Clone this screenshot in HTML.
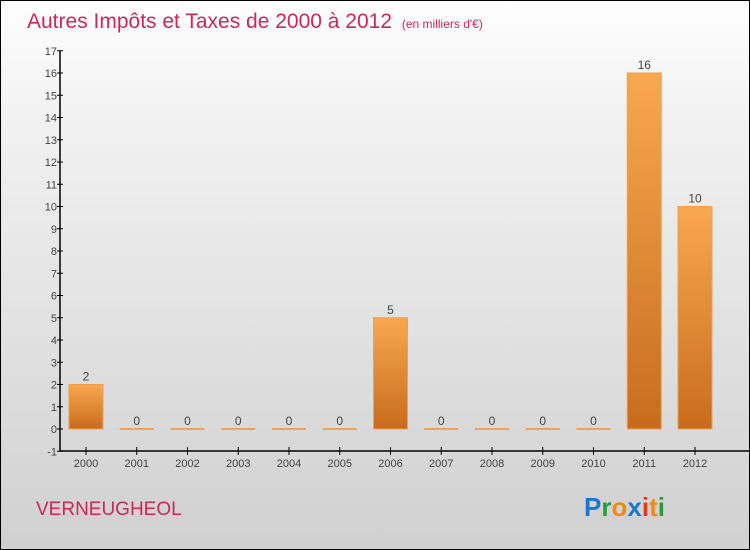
<!DOCTYPE html>
<html><head><meta charset="utf-8"><style>
body{margin:0;}
#c{position:relative;width:748px;height:548px;border:1px solid #000;background:linear-gradient(#fefefe,#f2f2f2 20%,#d0d0d0);font-family:"Liberation Sans",sans-serif;overflow:hidden;}
</style></head><body>
<div id="c">
<svg id="s" width="748" height="548" xmlns="http://www.w3.org/2000/svg">
<defs><linearGradient id="g" x1="0" y1="0" x2="0" y2="1"><stop offset="0" stop-color="#f8a850"/><stop offset="1" stop-color="#c86c1c"/></linearGradient></defs>
<text x="26" y="27" font-size="21" fill="#c8285a">Autres Impôts et Taxes de 2000 à 2012 <tspan font-size="12" dx="4">(en milliers d'€)</tspan></text>
<text x="35" y="514" font-size="19" fill="#c8285a">VERNEUGHEOL</text>
<g font-size="26" font-weight="bold" font-family="Liberation Sans, sans-serif">
<text x="583" y="515"><tspan fill="#1a78d0">P</tspan><tspan fill="#2a9a3a">r</tspan><tspan fill="#f08a10">o</tspan><tspan fill="#1a78d0">x</tspan><tspan fill="#e83a10">i</tspan><tspan fill="#f08a10">t</tspan><tspan fill="#2a9a3a">i</tspan></text>
</g>
<g id="plot"></g>
</svg>
</div>
<script>
const years=["2000","2001","2002","2003","2004","2005","2006","2007","2008","2009","2010","2011","2012"];
const values=[2,0,0,0,0,0,5,0,0,0,0,16,10];
const yTicks=[-1,0,1,2,3,4,5,6,7,8,9,10,11,12,13,14,15,16,17];
const NS="http://www.w3.org/2000/svg";
const g=document.getElementById('plot');
const y=v=>428-(v*22.25);
const x=i=>85+i*50.75;
function mk(t,a){const e=document.createElementNS(NS,t);for(const k in a)e.setAttribute(k,a[k]);g.appendChild(e);return e;}
let ax=mk('line',{x1:59,y1:y(17),x2:59,y2:450,stroke:'#000','stroke-width':1.5});


let bx=mk('line',{x1:59,y1:450,x2:748,y2:450,stroke:'#000','stroke-width':1.5});


yTicks.forEach(v=>{
 let t=mk('line',{x1:56,y1:y(v),x2:62,y2:y(v),stroke:'#000'});
 
 
 let l=mk('text',{x:56,y:y(v)+4,'font-size':11,fill:'#444','text-anchor':'end'});
 l.textContent=v;
 
 
});
years.forEach((yr,i)=>{
 const v=values[i],cx=x(i);
 let t=mk('line',{x1:cx,y1:446,x2:cx,y2:454,stroke:'#000'});
 
 
 let l=mk('text',{x:cx,y:466,'font-size':11,fill:'#444','text-anchor':'middle'});
 l.textContent=yr;
 
 
 let b;
 if(v>0){b=mk('rect',{x:cx-17,y:y(v),width:34,height:y(0)-y(v),fill:'url(#g)',stroke:'#f0a050','stroke-width':1});}
 else{b=mk('rect',{x:cx-17,y:y(0)-1,width:34,height:2,fill:'#f4a050'});}
 
 
 let vl=mk('text',{x:cx,y:y(v)-4,'font-size':12,fill:'#444','text-anchor':'middle'});
 vl.textContent=v;
 
 
});
</script>
</body></html>
